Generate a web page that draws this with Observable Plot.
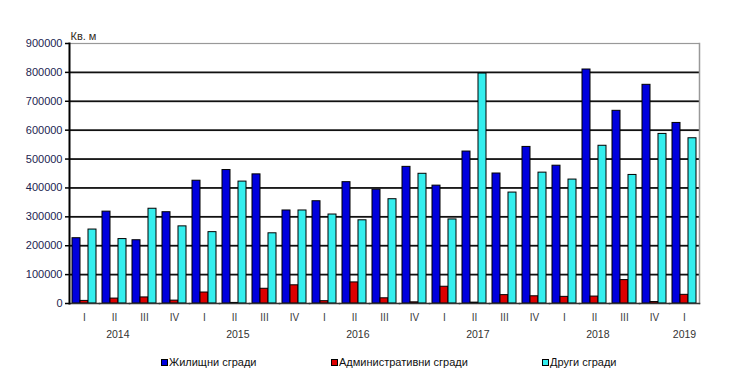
<!DOCTYPE html>
<html><head><meta charset="utf-8">
<script src="https://cdn.jsdelivr.net/npm/d3@7"></script>
<script src="https://cdn.jsdelivr.net/npm/@observablehq/plot@0.6"></script>
<style>
body{margin:0;background:#fff;font-family:"Liberation Sans",Arial,sans-serif}
#wrap{position:relative;width:740px;height:389px;overflow:hidden}
#chart svg{display:block}
.lg{position:absolute;top:355px;font-size:11px;color:#111;white-space:nowrap;line-height:14px}
.lg i{display:inline-block;width:5px;height:5px;border:1px solid #000;margin-right:1px;vertical-align:0px}
</style></head>
<body><div id="wrap"><div id="chart"></div>
<div class="lg" style="left:161px"><i style="background:#0000dd"></i>Жилищни сгради</div>
<div class="lg" style="left:331px"><i style="background:#dd0000"></i>Административни сгради</div>
<div class="lg" style="left:542px"><i style="background:#33eeee"></i>Други сгради</div>
</div>
<script>
const years = [2014,2014,2014,2014,2015,2015,2015,2015,2016,2016,2016,2016,2017,2017,2017,2017,2018,2018,2018,2018,2019];
const quarterLabels = ["I","II","III","IV","I","II","III","IV","I","II","III","IV","I","II","III","IV","I","II","III","IV","I"];
const seriesNames = ["Жилищни сгради","Административни сгради","Други сгради"];
const housing = [226000,318000,219000,316000,425000,462000,447000,322000,354000,420000,394000,473000,408000,526000,450000,542000,477000,810000,667000,757000,625000];
const admin   = [9000,17000,21000,10000,38000,2000,51000,63000,8000,73000,18000,4000,58000,3000,29000,25000,23000,24000,81000,5000,30000];
const other   = [256000,223000,328000,267000,247000,422000,243000,322000,308000,288000,361000,449000,291000,796000,384000,453000,429000,546000,445000,587000,572000];
const yTicks = [0,100000,200000,300000,400000,500000,600000,700000,800000,900000];
const unitLabel = "Кв. м";
const colors = ["#0000dd","#dd0000","#33eeee"];

const periodKeys = years.map((y,i)=>y+"-"+quarterLabels[i]);
const rows = [];
[housing, admin, other].forEach((arr,s)=>arr.forEach((v,i)=>rows.push({period:periodKeys[i], series:seriesNames[s], value:v})));
const yearList = [...new Set(years)];
const yearRowsMulti = [], yearRowsSingle = [];
yearList.forEach(y=>{
  const ps = periodKeys.filter((p,i)=>years[i]===y);
  if (ps.length>=2) yearRowsMulti.push({period:ps[1], label:String(y)});
  else yearRowsSingle.push({period:ps[0], label:String(y)});
});
const qLabel = new Map(periodKeys.map((p,i)=>[p,quarterLabels[i]]));

const chart = Plot.plot({
  width:740, height:345,
  marginTop:43, marginBottom:42, marginLeft:68, marginRight:41,
  style:{fontFamily:"'Liberation Sans', Arial, sans-serif", fontSize:"11px", color:"#1c2450", background:"transparent", overflow:"visible"},
  fx:{domain:periodKeys, padding:0, label:null},
  x:{domain:seriesNames, paddingInner:0, paddingOuter:0.25, axis:null},
  y:{domain:[0,900000], label:null},
  color:{domain:seriesNames, range:colors},
  marks:[
    Plot.ruleY(yTicks.slice(1,-1), {stroke:"#111", strokeWidth:1.8}),
    Plot.ruleY([yTicks[yTicks.length-1]], {stroke:"#999", strokeWidth:1.2}),
    Plot.barY(rows, {fx:"period", x:"series", y:"value", fill:"series", stroke:"#000", strokeWidth:1}),
    Plot.frame({anchor:"right", facetAnchor:"right", stroke:"#999", strokeWidth:1.5}),
    Plot.frame({anchor:"bottom", stroke:"#333", strokeWidth:1.5}),
    Plot.frame({anchor:"left", facetAnchor:"left", stroke:"#000", strokeWidth:2}),
    Plot.axisY({ticks:yTicks, tickSize:4, tickPadding:3, tickFormat:d3.format("d"), fontSize:11, stroke:"#000", strokeWidth:1.5, label:null, fill:"#1c2450"}),
    Plot.axisFx({anchor:"bottom", tickSize:0, tickPadding:10, tickFormat:p=>qLabel.get(p), fontSize:10, label:null, fill:"#3a3a3a"}),
    Plot.text(yearRowsMulti, {fx:"period", text:"label", frameAnchor:"bottom-right", dy:34, fontSize:10.5, fill:"#333"}),
    Plot.text(yearRowsSingle, {fx:"period", text:"label", frameAnchor:"bottom", dy:34, fontSize:10.5, fill:"#333"}),
    Plot.text([{period:periodKeys[0], label:unitLabel}], {fx:"period", text:"label", frameAnchor:"top-left", textAnchor:"start", dx:1, dy:-11, fontSize:11, fill:"#332a1a"})
  ]
});
document.getElementById("chart").appendChild(chart);
</script>
</body></html>
